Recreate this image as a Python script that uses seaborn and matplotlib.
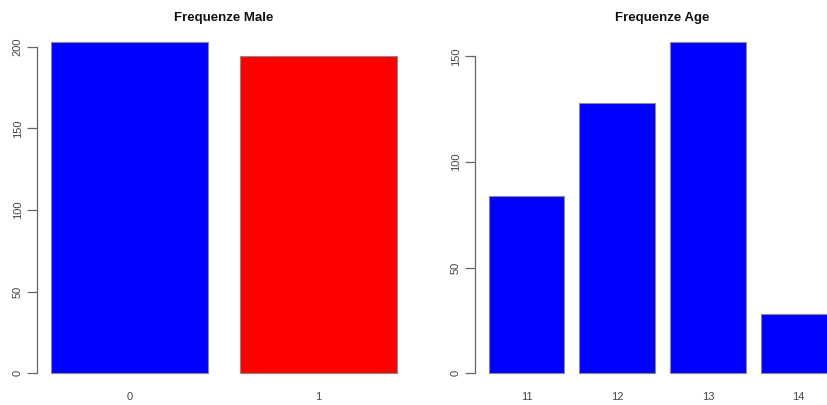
import matplotlib

matplotlib.use("Agg")
import matplotlib.pyplot as plt
import seaborn as sns

# Frequency tables
male_levels = ["0", "1"]
male_counts = [203, 194]
male_colors = ["#0000FF", "#FF0000"]

age_levels = ["11", "12", "13", "14"]
age_counts = [84, 128, 157, 28]
age_colors = ["#0000FF"] * 4

AXIS_GREY = "#666666"
BAR_WIDTH = 1 / 1.2  # R barplot: width 1, space 0.2


def r_style_bar(ax, levels, counts, colors, title, ymax, ytick_step, xlim, ylim):
    sns.barplot(x=levels, y=counts, hue=levels, palette=colors, legend=False,
                width=BAR_WIDTH, edgecolor="#8a8a8a", linewidth=0.8,
                saturation=1, ax=ax)
    ax.set_xlim(*xlim)
    ax.set_ylim(*ylim)
    for side in ("top", "right", "bottom"):
        ax.spines[side].set_visible(False)
    ax.spines["left"].set_bounds(0, ymax)
    ax.spines["left"].set_color(AXIS_GREY)
    ax.spines["left"].set_linewidth(0.9)
    ax.set_yticks(range(0, ymax + 1, ytick_step))
    ax.tick_params(axis="y", left=True, length=7, width=0.9, color=AXIS_GREY,
                   labelcolor="#444444", labelsize=8, labelrotation=90, pad=3)
    for lab in ax.get_yticklabels():
        lab.set_va("center")
    ax.tick_params(axis="x", bottom=False, length=0, labelcolor="#444444",
                   labelsize=8, pad=1.5)
    ax.set_xlabel("")
    ax.set_ylabel("")
    ax.set_title(title, fontsize=9.5, fontweight="bold", color="#111111", pad=5.5)
    ax.set_facecolor("white")


sns.set_theme(style="white")
plt.rcParams["font.family"] = ["Liberation Sans", "DejaVu Sans"]

fig = plt.figure(figsize=(8.27, 4.05), dpi=100)
ax1 = fig.add_axes([0.0445, 0.037, 0.4528, 0.893])
ax2 = fig.add_axes([0.5741, 0.037, 0.454, 0.893])

r_style_bar(ax1, male_levels, male_counts, male_colors, "Frequenze Male",
            200, 50, (-0.49, 1.49), (-10.2, 211.2))
r_style_bar(ax2, age_levels, age_counts, age_colors, "Frequenze Age",
            150, 50, (-0.57, 3.57), (-7.9, 163.3))

fig.savefig("out.png", dpi=100)
plt.close(fig)
